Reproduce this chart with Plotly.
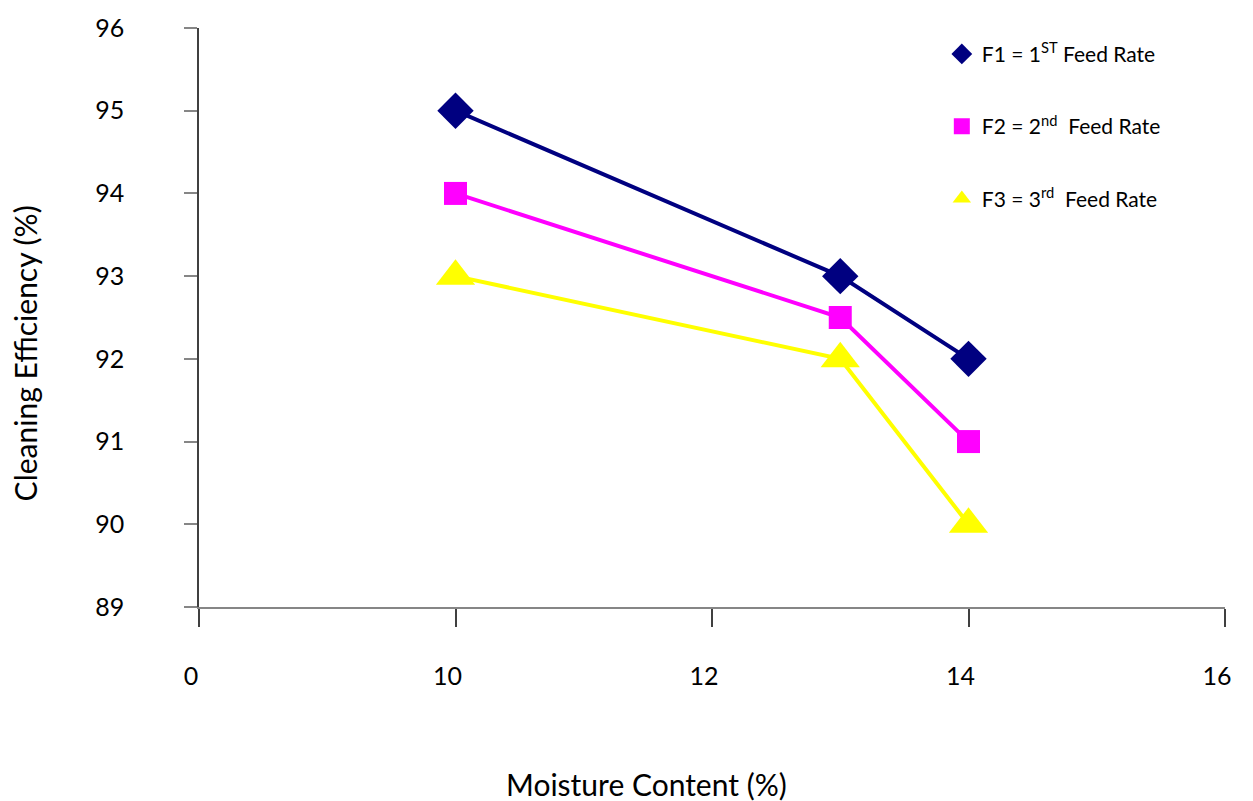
import plotly.graph_objects as go

# Moisture content (%) and cleaning efficiency (%) for three feed rates
moisture = [10, 13, 14]
f1_efficiency = [95, 93, 92]
f2_efficiency = [94, 92.5, 91]
f3_efficiency = [93, 92, 90]

series_names = [
    "F1 = 1<sup>ST</sup> Feed Rate",
    "F2 = 2<sup>nd</sup>\u00a0 Feed Rate",
    "F3 = 3<sup>rd</sup>\u00a0 Feed Rate",
]

x_tick_vals = [8, 10, 12, 14, 16]
x_tick_text = ["0", "10", "12", "14", "16"]
y_tick_vals = [89, 90, 91, 92, 93, 94, 95, 96]

FONT = "Lato"

styles = [
    dict(color="#000080", symbol="diamond", size=28, legend_size=18),
    dict(color="#FF00FF", symbol="square", size=23, legend_size=16),
    dict(color="#FFFF00", symbol="triangle-up", size=34, legend_size=20),
]

fig = go.Figure()
for i, (name, vals, st) in enumerate(
    zip(series_names, [f1_efficiency, f2_efficiency, f3_efficiency], styles)
):
    # data line with markers
    fig.add_trace(
        go.Scatter(
            x=moisture,
            y=vals,
            name=name,
            legendgroup=f"g{i}",
            showlegend=False,
            mode="lines+markers",
            line=dict(color=st["color"], width=4),
            marker=dict(color=st["color"], symbol=st["symbol"], size=st["size"]),
        )
    )
    # legend entry shows only the marker symbol
    fig.add_trace(
        go.Scatter(
            x=[None],
            y=[None],
            name=name,
            legendgroup=f"g{i}",
            mode="markers",
            marker=dict(color=st["color"], symbol=st["symbol"], size=st["legend_size"]),
        )
    )

fig.update_layout(
    width=1253,
    height=801,
    margin=dict(l=199, r=28, t=25, b=194),
    paper_bgcolor="white",
    plot_bgcolor="white",
    font=dict(family=FONT, size=25, color="black"),
    showlegend=True,
    legend=dict(
        x=0.724,
        y=0.99,
        xanchor="left",
        yanchor="top",
        font=dict(family=FONT, size=21, color="black"),
        tracegroupgap=42,
        bgcolor="rgba(0,0,0,0)",
        itemsizing="trace",
    ),
    xaxis=dict(
        range=[8, 16],
        tickvals=x_tick_vals,
        ticktext=x_tick_text,
        showgrid=False,
        zeroline=False,
        showline=True,
        linecolor="#868686",
        linewidth=1.5,
        ticks="outside",
        ticklen=18,
        tickcolor="#404040",
        tickwidth=1.5,
        ticklabelstandoff=28,
        ticklabelshift=-8,
        tickfont=dict(family=FONT, size=25, color="black"),
    ),
    yaxis=dict(
        range=[89, 96],
        tickvals=y_tick_vals,
        showgrid=False,
        zeroline=False,
        showline=True,
        linecolor="#404040",
        linewidth=1.5,
        ticks="outside",
        ticklen=13,
        tickcolor="#868686",
        tickwidth=1.5,
        ticklabelstandoff=55,
        tickfont=dict(family=FONT, size=25, color="black"),
    ),
    annotations=[
        dict(
            text="Cleaning Efficiency (%)",
            xref="paper",
            yref="paper",
            x=-0.1696,
            y=0.438,
            xanchor="center",
            yanchor="middle",
            textangle=-90,
            showarrow=False,
            font=dict(family=FONT, size=30, color="black"),
        ),
        dict(
            text="Moisture Content (%)",
            xref="paper",
            yref="paper",
            x=0.4366,
            y=-0.306,
            xanchor="center",
            yanchor="middle",
            showarrow=False,
            font=dict(family=FONT, size=30, color="black"),
        ),
    ],
)

fig.write_html("out.html")
